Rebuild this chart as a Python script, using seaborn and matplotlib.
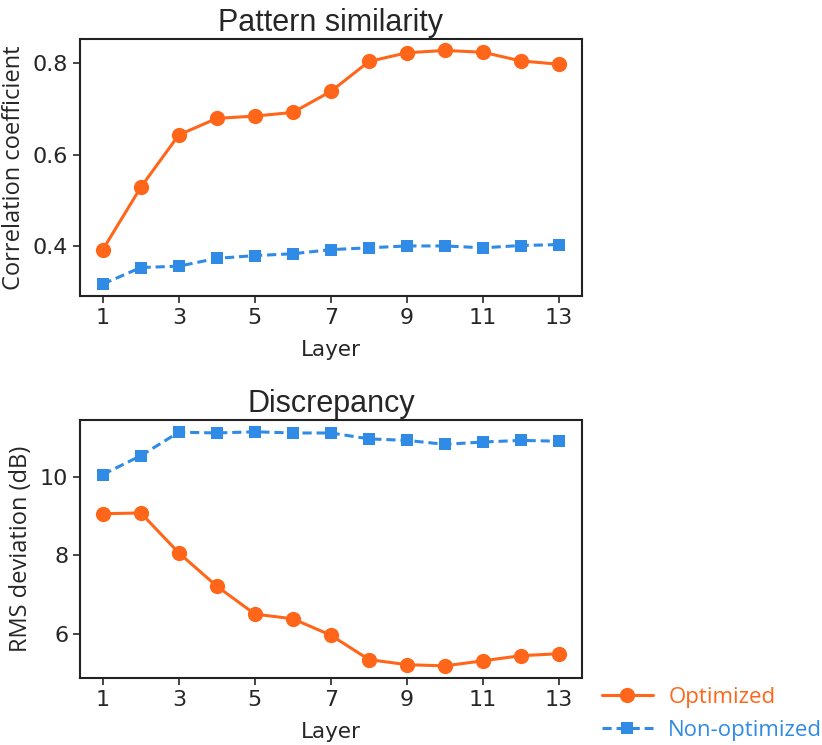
import numpy as np
import pandas as pd
import seaborn as sns
import matplotlib.pyplot as plt

# layer indices
layers = list(range(1, 14))

# pattern similarity (correlation coefficient)
corr_opt = [0.393, 0.529, 0.643, 0.679, 0.684, 0.692, 0.738, 0.803, 0.822, 0.827, 0.823, 0.804, 0.797]
corr_nonopt = [0.318, 0.354, 0.357, 0.374, 0.380, 0.384, 0.393, 0.397, 0.401, 0.401, 0.397, 0.402, 0.404]

# discrepancy (RMS deviation, dB)
rms_opt = [9.06, 9.08, 8.06, 7.21, 6.50, 6.38, 5.96, 5.34, 5.21, 5.18, 5.31, 5.44, 5.49]
rms_nonopt = [10.06, 10.54, 11.14, 11.12, 11.15, 11.12, 11.12, 10.97, 10.93, 10.83, 10.89, 10.93, 10.91]

series_names = ['Optimized', 'Non-optimized']
xticks = [1, 3, 5, 7, 9, 11, 13]

orange = '#FF6619'
blue = '#2F8BE6'

sns.set_style('ticks')
plt.rcParams['font.family'] = ['DejaVu Sans']

df_corr = pd.DataFrame({
    'Layer': layers * 2,
    'value': corr_opt + corr_nonopt,
    'series': [series_names[0]] * 13 + [series_names[1]] * 13,
})
df_rms = pd.DataFrame({
    'Layer': layers * 2,
    'value': rms_opt + rms_nonopt,
    'series': [series_names[0]] * 13 + [series_names[1]] * 13,
})

fig = plt.figure(figsize=(8.22, 7.45), dpi=100)
ax1 = fig.add_axes([0.0973, 0.6027, 0.6107, 0.345])
ax2 = fig.add_axes([0.0973, 0.0899, 0.6107, 0.3463])

palette = {series_names[0]: orange, series_names[1]: blue}
markers = {series_names[0]: 'o', series_names[1]: 's'}
dashes = {series_names[0]: '', series_names[1]: (3, 1.6)}

for ax, df in [(ax1, df_corr), (ax2, df_rms)]:
    sns.lineplot(data=df, x='Layer', y='value', hue='series', style='series',
                 palette=palette, markers=markers, dashes=dashes,
                 linewidth=2.2, markersize=11, markeredgewidth=0,
                 ax=ax, legend=(ax is ax2))
    # squares a bit smaller than the circles
    for ln in ax.get_lines():
        if ln.get_marker() == 's':
            ln.set_markersize(9)
    ax.set_xlim(0.4, 13.6)
    ax.set_xticks(xticks)
    ax.tick_params(labelsize=16, length=5, width=1.2)
    ax.set_xlabel('Layer', fontsize=15.5, labelpad=9)
    for s in ax.spines.values():
        s.set_linewidth(1.5)
        s.set_color('#222222')

ylab_font = {'family': 'Open Sans', 'size': 17}
title_font = {'family': 'Liberation Sans', 'size': 22}

ax1.set_ylim(0.292, 0.852)
ax1.set_yticks([0.4, 0.6, 0.8])
ax1.set_ylabel('Correlation coefficient', fontdict=ylab_font, labelpad=5)
ax1.set_title('Pattern similarity', fontdict=title_font, pad=6)

ax2.set_ylim(4.87, 11.45)
ax2.set_yticks([6, 8, 10])
ax2.set_ylabel('RMS deviation (dB)', fontdict=ylab_font, labelpad=5)
ax2.set_title('Discrepancy', fontdict=title_font, pad=6)

handles, labels = ax2.get_legend_handles_labels()
ax2.get_legend().remove()
for h in handles:
    if h.get_marker() == 's':
        h.set_markersize(9)
leg = fig.legend(handles, labels, loc='center left', bbox_to_anchor=(0.732, 0.042),
                 frameon=False, handlelength=2.3, handletextpad=0.7,
                 labelspacing=0.55, borderaxespad=0, borderpad=0,
                 prop={'family': 'Open Sans', 'size': 16})
for txt, c in zip(leg.get_texts(), [orange, blue]):
    txt.set_color(c)

fig.savefig('out.png', dpi=100)
